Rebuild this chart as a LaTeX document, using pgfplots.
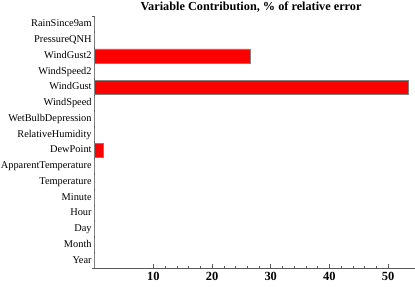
\documentclass[border=0pt]{standalone}
\usepackage{fontspec}
\setmainfont{Liberation Serif}
\usepackage{pgfplots}
\pgfplotsset{compat=1.18}
\begin{document}
\begin{tikzpicture}
\begin{axis}[
  at={(0,0)}, anchor=south west,
  scale only axis, width=320bp, height=252bp,
  xmin=0, xmax=54.5, ymin=0.5, ymax=16.5,
  xbar, bar width=0.88,
  axis x line*=bottom, axis y line*=left,
  axis line style={draw=black!65, line width=0.6bp, -},
  xtick={10,20,30,40,50},
  minor x tick num=4,
  tick align=inside,
  major tick length=4bp, minor tick length=2.5bp,
  every tick/.style={draw=black!65, line width=0.5bp},
  /pgf/number format/assume math mode=true,
  xticklabel style={font=\bfseries\fontsize{12.5}{14}\selectfont, yshift=-0.5bp},
  ytick={1,...,16},
  yticklabels={Year,Month,Day,Hour,Minute,Temperature,ApparentTemperature,DewPoint,RelativeHumidity,WetBulbDepression,WindSpeed,WindGust,WindSpeed2,WindGust2,PressureQNH,RainSince9am},
  yticklabel style={font=\fontsize{10.4}{12}\selectfont, text height=7bp, text depth=2.2bp, inner sep=1.5bp, xshift=-1.3bp},
  ytick style={draw=none},
  extra y ticks={0.5,16.5},
  extra y tick labels={},
  extra y tick style={ytick style={draw=black!65}, tick align=outside, major tick length=3bp},
  clip=false,
]
\addplot[fill=red, draw=black!50, line width=0.5bp] coordinates {
  (0,1) (0,2) (0,3) (0,4) (0,5) (0,6) (0,7) (1.4,8) (0,9) (0,10)
  (0,11) (53.4,12) (0,13) (26.5,14) (0,15) (0,16)
};
\end{axis}
\node[anchor=base, font=\bfseries\fontsize{12.3}{14}\selectfont] at (156.4bp,257.5bp) {Variable Contribution, \% of relative error};
\pgfresetboundingbox
\useasboundingbox (-94.6bp,-18.5bp) rectangle (320.4bp,268.5bp);
\end{tikzpicture}
\end{document}
